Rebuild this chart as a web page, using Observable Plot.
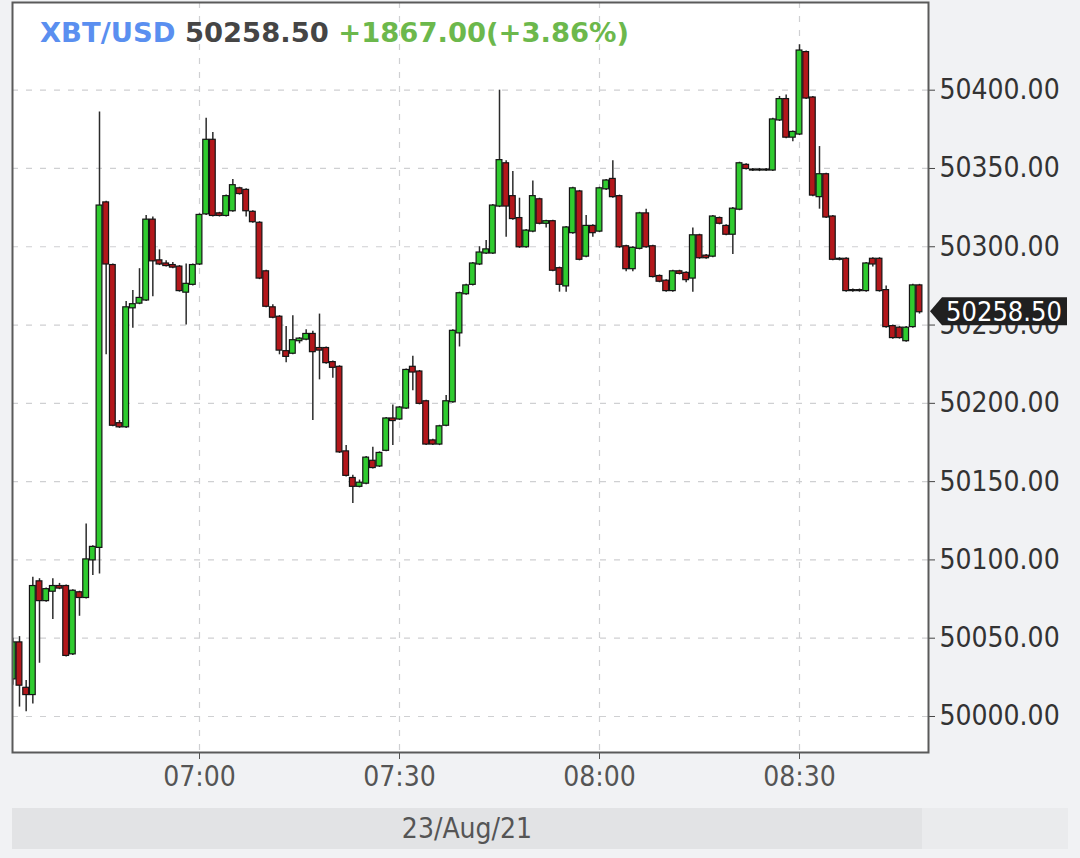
<!DOCTYPE html>
<html>
<head>
<meta charset="utf-8">
<script src="https://cdn.jsdelivr.net/npm/d3@7"></script>
<script src="https://cdn.jsdelivr.net/npm/@observablehq/plot@0.6"></script>
<style>
  html, body { margin: 0; padding: 0; background: #f1f2f4; }
  #chart { width: 1080px; height: 858px; overflow: hidden; }
  svg { display: block; }
</style>
</head>
<body>
<div id="chart"></div>
<script>
// ---- data (1-minute candles, 23 Aug 2021, starting 06:32 UTC) ----
const startTime = "2021-08-23T06:32:00Z";
const symbol = "XBT/USD";
const lastPriceText = "50258.50";
const changeText = "+1867.00(+3.86%)";

const opens = [50024,50047,50018,50014,50086,50074,50080,50083,50083,50040,50079,50076,50100,50108,50328,50288,50187,50185,50261,50264,
50266,50317,50291,50289,50288,50287,50271,50276,50289,50321,50368,50321,50320,50323,50337,50336,50322,50315,50284,50261,
50255,50233,50232,50240,50241,50244,50235,50235,50226,50223,50169,50152,50147,50149,50163,50160,50170,50190,50190,50197,
50223,50220,50201,50176,50174,50186,50201,50245,50270,50276,50289,50296,50296,50326,50353,50332,50318,50300,50310,50330,
50315,50316,50286,50275,50309,50335,50294,50313,50310,50337,50343,50332,50300,50286,50299,50321,50300,50281,50278,50272,
50284,50283,50280,50307,50294,50294,50318,50313,50308,50324,50352,50349,50349,50349,50349,50381,50394,50370,50372,50424,
50395,50332,50346,50319,50292,50292,50272,50272,50272,50292,50292,50272,50249,50248,50240,50249,50275];

const highs = [50050,50051,50023,50089,50088,50082,50088,50085,50084,50081,50080,50123,50109,50386,50329,50289,50189,50265,50272,50286,
50320,50319,50298,50291,50290,50288,50289,50289,50321,50382,50373,50322,50333,50343,50338,50337,50323,50316,50285,50263,
50256,50249,50256,50242,50247,50246,50257,50236,50227,50224,50173,50154,50151,50166,50172,50169,50191,50199,50198,50222,
50230,50221,50202,50177,50186,50205,50247,50271,50276,50290,50300,50304,50327,50400,50355,50348,50331,50311,50342,50331,
50317,50317,50287,50313,50338,50336,50320,50314,50338,50343,50355,50333,50301,50300,50322,50324,50301,50282,50279,50285,
50285,50284,50312,50308,50295,50320,50319,50314,50325,50354,50353,50350,50350,50350,50382,50396,50397,50374,50429,50425,
50396,50364,50347,50320,50293,50293,50273,50273,50290,50293,50293,50275,50250,50249,50249,50276,50276];

const lows = [50020,50006,50003,50008,50034,50073,50062,50081,50038,50039,50064,50075,50090,50091,50231,50185,50184,50184,50248,50263,
50265,50268,50288,50287,50286,50271,50250,50275,50288,50320,50319,50319,50319,50322,50333,50319,50315,50279,50261,50254,
50231,50226,50231,50238,50240,50189,50215,50225,50216,50168,50153,50136,50146,50148,50158,50159,50169,50173,50189,50196,
50208,50199,50173,50173,50173,50185,50200,50236,50269,50275,50288,50295,50295,50325,50306,50317,50299,50299,50309,50314,
50312,50284,50271,50271,50308,50291,50293,50306,50309,50336,50331,50299,50284,50284,50298,50299,50280,50277,50271,50271,
50282,50277,50271,50292,50292,50293,50314,50307,50295,50323,50349,50348,50348,50348,50348,50380,50369,50367,50371,50394,
50332,50324,50318,50291,50291,50271,50271,50271,50271,50287,50271,50248,50241,50241,50239,50248,50257];

const closes = [50047,50020,50014,50083,50074,50081,50083,50082,50039,50080,50076,50100,50108,50326,50289,50186,50185,50261,50263,50267,
50317,50291,50289,50288,50287,50272,50276,50288,50320,50368,50320,50320,50332,50339,50334,50323,50316,50280,50262,50255,
50234,50230,50240,50241,50244,50233,50234,50226,50223,50169,50154,50147,50149,50165,50159,50168,50190,50189,50197,50221,
50220,50200,50174,50174,50185,50201,50246,50270,50275,50289,50296,50298,50326,50355,50326,50318,50300,50310,50332,50315,
50316,50285,50276,50312,50337,50292,50313,50309,50337,50342,50332,50300,50286,50299,50321,50300,50281,50278,50272,50284,
50283,50279,50307,50293,50293,50319,50315,50308,50324,50353,50350,50349,50349,50349,50381,50394,50370,50373,50425,50395,
50333,50346,50319,50292,50292,50272,50272,50272,50289,50289,50272,50249,50242,50242,50248,50275,50258.5];

const timeTicks = ["07:00", "07:30", "08:00", "08:30"];
const priceTicks = [50000, 50050, 50100, 50150, 50200, 50250, 50300, 50350, 50400];

// ---- build table ----
const t0 = new Date(startTime);
const candles = opens.map((o, i) => ({
  t: d3.utcMinute.offset(t0, i),
  open: o, high: highs[i], low: lows[i], close: closes[i]
}));
const up = candles.filter(d => d.close >= d.open);
const down = candles.filter(d => d.close < d.open);
const dayStr = d3.utcFormat("%Y-%m-%d")(t0);
const tickDates = timeTicks.map(s => new Date(`${dayStr}T${s}:00Z`));
const half = 26000; // half candle width in ms

const xDomain = [new Date(`${dayStr}T06:31:57Z`), new Date(`${dayStr}T08:49:21Z`)];
const yDomain = [49977, 50456];

const AXIS_FONT = "'DejaVu Sans Condensed', 'DejaVu Sans', sans-serif";
const gridStyle = {stroke: "#cfd0d2", strokeOpacity: 1, strokeWidth: 1.2, strokeDasharray: "6,8"};
const GREEN = "#2fcb2f", RED = "#b3171b";

const chart = Plot.plot({
  width: 1080, height: 858,
  marginLeft: 12, marginRight: 152, marginTop: 2, marginBottom: 106,
  style: {background: "transparent", fontFamily: AXIS_FONT, fontSize: "28px", fontStretch: "condensed", color: "#444"},
  x: {type: "utc", domain: xDomain},
  y: {domain: yDomain},
  marks: [
    Plot.frame({fill: "white", stroke: "none"}),
    Plot.gridX(tickDates, gridStyle),
    Plot.gridY(priceTicks, gridStyle),
    Plot.ruleX(candles, {x: "t", y1: "low", y2: "high", stroke: "#2b2b2b", strokeWidth: 1.5, clip: true}),
    Plot.rect(up, {x1: d => new Date(+d.t - half), x2: d => new Date(+d.t + half), y1: "open", y2: "close",
      fill: GREEN, stroke: "#151515", strokeWidth: 1.2, insetTop: -0.5, insetBottom: -0.5, clip: true}),
    Plot.rect(down, {x1: d => new Date(+d.t - half), x2: d => new Date(+d.t + half), y1: "open", y2: "close",
      fill: RED, stroke: "#151515", strokeWidth: 1.2, insetTop: -0.5, insetBottom: -0.5, clip: true}),
    Plot.axisX(tickDates, {tickFormat: d3.utcFormat("%H:%M"), tickSize: 7, tickPadding: 7, label: null, stroke: "#555", fill: "#555"}),
    Plot.axisY(priceTicks, {anchor: "right", tickFormat: d => d.toFixed(2), tickSize: 6, tickPadding: 5, label: null, stroke: "#444", fill: "#333"}),
    Plot.frame({stroke: "#5a5a5a", strokeWidth: 2})
  ]
});

const svg = d3.select(chart);
const xs = chart.scale("x"), ys = chart.scale("y");
const xr0 = xs.range[0], xr1 = xs.range[1];

// header
const header = svg.append("text").attr("x", 40).attr("y", 42).attr("text-anchor", "start")
  .attr("font-family", "'DejaVu Sans', sans-serif").attr("font-weight", "bold").attr("font-size", 27.4)
  .style("font-stretch", "normal");
header.append("tspan").attr("fill", "#5a8ff0").text(symbol + " ");
header.append("tspan").attr("fill", "#454545").text(lastPriceText + " ");
header.append("tspan").attr("fill", "#6cb84c").text(changeText);

// last price marker
const lastClose = closes[closes.length - 1];
const yv = ys.apply(lastClose);
const mx = xr1 + 2;
const marker = svg.append("g");
marker.append("path")
  .attr("d", `M${mx},${yv} L${mx + 12},${yv - 14} H${mx + 137} V${yv + 14} H${mx + 12} Z`)
  .attr("fill", "#202020");
marker.append("text").attr("x", mx + 74).attr("y", yv).attr("dy", "0.36em")
  .attr("text-anchor", "middle").attr("fill", "white")
  .attr("font-family", AXIS_FONT).attr("font-size", 27)
  .text(lastClose.toFixed(2));

// date band
const bandY = 808;
svg.append("rect").attr("x", xr1 - 6).attr("y", bandY).attr("width", 1080 - (xr1 - 6) - 12).attr("height", 41).attr("fill", "#eaebed");
svg.append("rect").attr("x", xr0).attr("y", bandY).attr("width", xr1 - 6 - xr0).attr("height", 41).attr("fill", "#e2e3e5");
svg.append("text").attr("x", (xr0 + xr1 - 6) / 2).attr("y", bandY + 20).attr("dy", "0.36em")
  .attr("text-anchor", "middle").attr("fill", "#555")
  .attr("font-family", AXIS_FONT).attr("font-size", 28)
  .text(d3.utcFormat("%d/%b/%y")(t0));

document.getElementById("chart").appendChild(chart);
</script>
</body>
</html>
